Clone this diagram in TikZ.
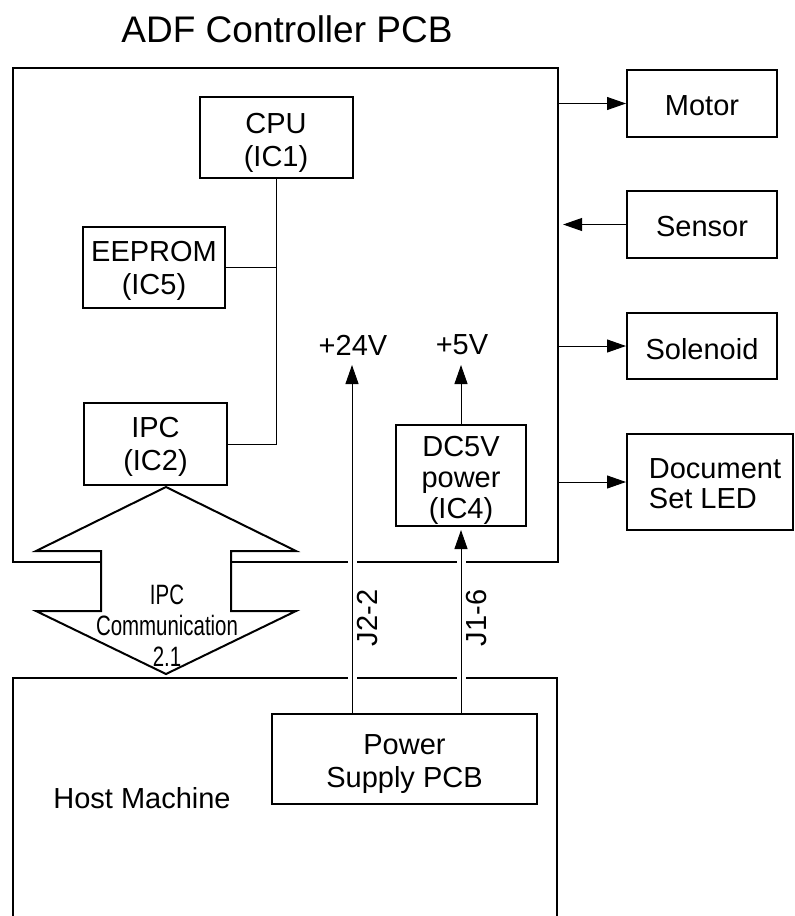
\documentclass[tikz,border=0pt]{standalone}
\usepackage{fontspec}
\usepackage{graphicx}
\setmainfont{Liberation Sans}
\usetikzlibrary{arrows.meta}
\newcommand{\lowerln}[2][4pt]{\raisebox{-#1}[\height][\depth]{#2}}
\begin{document}
\begin{tikzpicture}[x=1pt,y=-1pt,
  box/.style={draw, line width=2pt, inner sep=0pt, align=center, font=\fontsize{29}{33}\selectfont},
  big/.style={draw, line width=2.2pt, inner sep=0pt},
  conn/.style={line width=1pt},
  arr/.style={conn, -{Triangle[length=19pt,width=13pt]}},
  txt/.style={inner sep=0pt, font=\fontsize{29}{33}\selectfont, align=center},
  cross/.style={preaction={draw=white, line width=9pt, -, shorten <=8pt, shorten >=8pt}}
]
\useasboundingbox (0,0) rectangle (795,916);

% main boards
\node[big, minimum width=545pt, minimum height=494pt] (adf) at (285.5,315) {};
\draw[line width=2.2pt] (13,920) -- (13,678) -- (557,678) -- (557,920);

% inner blocks
\node[box, minimum width=153pt, minimum height=81pt] (cpu) at (276,137.5)
  {\lowerln[5pt]{CPU}\\\lowerln[5pt]{(IC1)}};
\node[box, minimum width=142pt, minimum height=81pt] (eeprom) at (154,267.5)
  {\lowerln[3.5pt]{EEPROM}\\\lowerln[3.5pt]{(IC5)}};
\node[box, minimum width=143pt, minimum height=82pt] (ipc) at (155.5,444)
  {\lowerln[3pt]{IPC}\\\lowerln[3pt]{(IC2)}};
\node[box, minimum width=130pt, minimum height=101pt, font=\fontsize{29}{31}\selectfont] (dc5) at (461,475.5)
  {\lowerln[4.5pt]{DC5V}\\\lowerln[4.5pt]{power}\\\lowerln[4.5pt]{(IC4)}};
\node[box, minimum width=265pt, minimum height=90pt] (psu) at (404.5,759)
  {\lowerln[5pt]{Power}\\\lowerln[5pt]{Supply PCB}};

% peripherals
\node[box, minimum width=150pt, minimum height=67pt] (motor) at (702,103.5) {\lowerln[2.5pt]{Motor}};
\node[box, minimum width=150pt, minimum height=67pt] (sensor) at (702,224.5) {\lowerln[2.5pt]{Sensor}};
\node[box, minimum width=150pt, minimum height=66pt] (solenoid) at (702,346) {\lowerln[3pt]{Solenoid}};
\node[box, minimum width=166pt, minimum height=96pt, align=left, font=\fontsize{29}{30}\selectfont] (doc) at (710,482)
  {\hspace*{10pt}\lowerln[2pt]{Document}\\\hspace*{10pt}\lowerln[2pt]{Set LED}};

% IPC double arrow
\draw[line width=2pt, fill=white] (166,487) -- (296,551) -- (231,551) -- (231,611) -- (296,611)
  -- (166,674) -- (36,611) -- (101,611) -- (101,551) -- (36,551) -- cycle;
\node[inner sep=0pt, font=\fontsize{28}{31}\selectfont, align=center] (ipccom) at (167,626)
  {\scalebox{0.73}[1]{IPC}\\\scalebox{0.73}[1]{Communication}\\\scalebox{0.73}[1]{2.1}};

% internal bus
\draw[conn] (cpu.south) |- (ipc.east);
\draw[conn] (eeprom.east) -- (eeprom.east -| cpu.south);

% peripheral signals
\draw[arr] (motor.west -| adf.east) -- (motor.west);
\draw[arr, shorten >=4pt] (sensor.west) -- (sensor.west -| adf.east);
\draw[arr] (solenoid.west -| adf.east) -- (solenoid.west);
\draw[arr] (doc.west -| adf.east) -- (doc.west);

% power lines
\coordinate (t24) at (352,365);
\coordinate (t5) at (461,365);
\draw[arr, cross] (psu.north -| t24) -- (t24);
\draw[arr] (dc5.north) -- (t5);
\draw[arr, cross, shorten >=3pt] (psu.north -| dc5.south) -- (dc5.south);

% labels
\node[txt] (l24) at (353,345) {+24V};
\node[txt] (l5) at (462,345) {+5V};
\node[txt, rotate=90] (j22) at (368,618) {J2-2};
\node[txt, rotate=90] (j16) at (477,618) {J1-6};
\node[inner sep=0pt, anchor=base, font=\fontsize{37}{40}\selectfont] (title) at (287,42) {ADF Controller PCB};
\node[txt] (host) at (142,798) {Host Machine};
\end{tikzpicture}
\end{document}
